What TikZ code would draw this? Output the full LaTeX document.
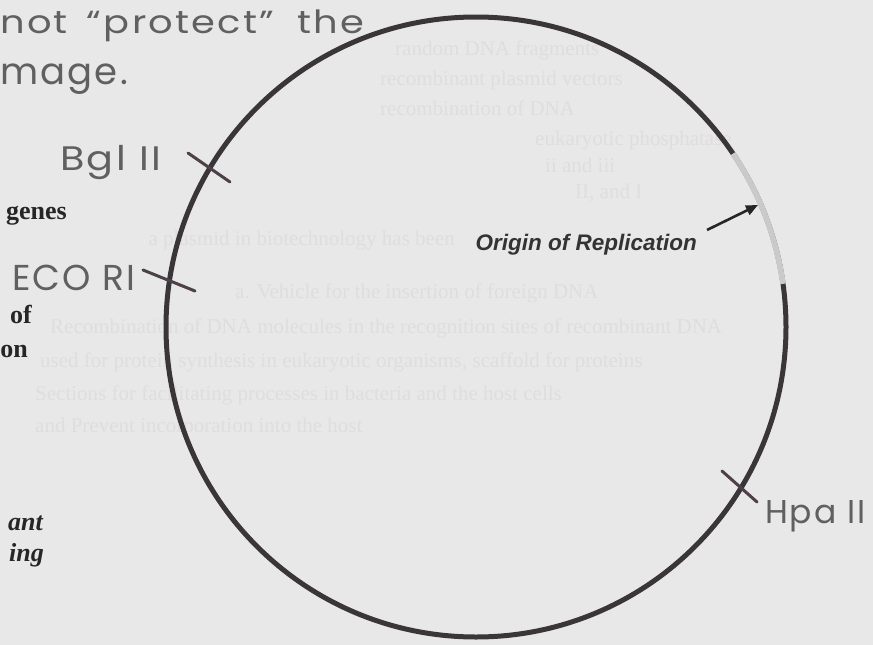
\documentclass[tikz,border=0pt]{standalone}
\usepackage{fontspec}
\setmainfont{Liberation Serif}
\newfontfamily\hand[LetterSpace=6]{Poppins}
\newfontfamily\arialf{Liberation Sans}
\usetikzlibrary{arrows.meta}
\definecolor{paper}{HTML}{E8E8E8}
\definecolor{ink}{HTML}{3A3537}
\definecolor{pencil}{HTML}{606060}
\definecolor{cut}{HTML}{4E4049}
\definecolor{origray}{HTML}{CACACA}
\definecolor{faint}{HTML}{DEDEDE}
\tikzset{
  plasmid/.style={circle, draw=ink, line width=5pt, minimum size=620pt, inner sep=0pt},
  orisegment/.style={draw=origray, line width=5.5pt},
  cutmark/.style={draw=cut, line width=3pt, line cap=round},
  handtext/.style={anchor=base west, inner sep=0pt, text=pencil},
  printbold/.style={anchor=base east, inner sep=0pt, text=black!85, font=\bfseries\fontsize{26}{26}\selectfont},
  printit/.style={anchor=base east, inner sep=0pt, text=black!85, font=\bfseries\itshape\fontsize{26}{26}\selectfont},
  faintline/.style={anchor=base west, inner sep=0pt, text=faint, font=\fontsize{21}{21}\selectfont},
  pointer/.style={draw=black!85, line width=2.6pt, -{Triangle[length=12pt,width=10pt]}}
}
\begin{document}
\begin{tikzpicture}[x=1pt,y=-1pt]
\fill[paper] (0,0) rectangle (873,645);
\useasboundingbox (0,0) rectangle (873,645);

% faint background print
\node[faintline] (f1) at (395,55) {random DNA fragments};
\node[faintline] (f2) at (380,85) {recombinant plasmid vectors};
\node[faintline] (f3) at (380,115) {recombination of DNA};
\node[faintline] (f4) at (535,145) {eukaryotic phosphatase};
\node[faintline] (f5) at (545,172) {ii and iii};
\node[faintline] (f6) at (575,198) {II, and I};
\node[faintline, anchor=base east] (f7) at (455,245) {a plasmid in biotechnology has been};
\node[faintline] (f8) at (235,298) {a. Vehicle for the insertion of foreign DNA};
\node[faintline] (f9) at (50,333) {Recombination of DNA molecules in the recognition sites of recombinant DNA};
\node[faintline] (f10) at (40,367) {used for protein synthesis in eukaryotic organisms, scaffold for proteins};
\node[faintline] (f11) at (35,400) {Sections for facilitating processes in bacteria and the host cells};
\node[faintline] (f12) at (35,432) {and Prevent incorporation into the host};

% left margin printed words
\node[printbold] (w1) at (67,219) {genes};
\node[printbold] (w2) at (32,323) {of};
\node[printbold] (w3) at (28,357) {on};
\node[printit] (w4) at (43,530) {ant};
\node[printit] (w5) at (44,561) {ing};

% handwritten note
\node[handtext, font=\hand\fontsize{32}{32}\selectfont] (n1) at (0,33) {\scalebox{1.2}[1]{not \,“protect”\; the}};
\node[handtext, font=\hand\fontsize{37}{37}\selectfont] (n2) at (0,84) {mage.};

% plasmid
\node[plasmid] (pl) at (476,327) {};
\draw[orisegment] plot[domain=-34:-8, samples=40] ({476+310*cos(\x)}, {327+310*sin(\x)});

% origin label and arrow
\node[anchor=base east, inner sep=0pt, text=black!80, font=\arialf\bfseries\itshape\fontsize{22.5}{22.5}\selectfont] (ori) at (697,250) {Origin of Replication};
\coordinate (arrtail) at (707,230);
\coordinate (arrtip) at (758,205);
\draw[pointer] (arrtail) -- (arrtip);

% restriction sites
\coordinate (bglA) at (188,153); \coordinate (bglB) at (230,182);
\coordinate (ecoA) at (143,270); \coordinate (ecoB) at (195,291);
\coordinate (hpaA) at (722,471); \coordinate (hpaB) at (757,502);
\draw[cutmark] (bglA) -- (bglB);
\draw[cutmark] (ecoA) -- (ecoB);
\draw[cutmark] (hpaA) -- (hpaB);
\node[handtext, font=\hand\fontsize{34}{34}\selectfont] (bgl) at (60,170) {\scalebox{1.17}[1]{Bgl II}};
\node[handtext, font=\hand\fontsize{36}{36}\selectfont] (eco) at (12,290) {ECO RI};
\node[handtext, font=\hand\fontsize{33}{33}\selectfont] (hpa) at (765,523) {Hpa II};
\end{tikzpicture}
\end{document}
